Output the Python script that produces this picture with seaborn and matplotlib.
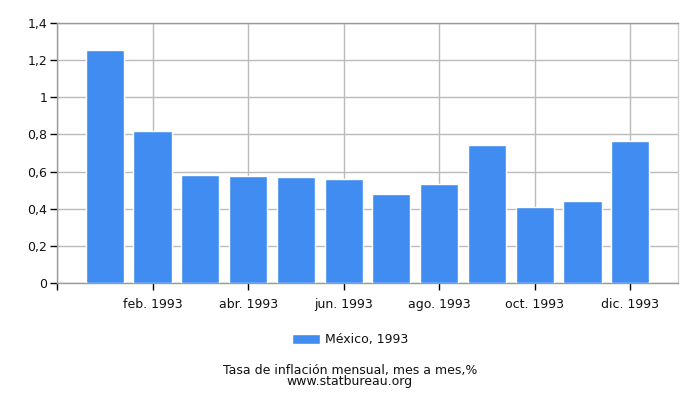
import matplotlib
matplotlib.use("Agg")
import matplotlib.pyplot as plt
import seaborn as sns
import pandas as pd

months = ["ene. 1993", "feb. 1993", "mar. 1993", "abr. 1993", "may. 1993", "jun. 1993",
          "jul. 1993", "ago. 1993", "sep. 1993", "oct. 1993", "nov. 1993", "dic. 1993"]
values = [1.257, 0.820, 0.584, 0.578, 0.572, 0.561, 0.480, 0.534, 0.745, 0.410, 0.442, 0.766]
y_ticks = [0, 0.2, 0.4, 0.6, 0.8, 1.0, 1.2, 1.4]
y_tick_labels = ["0", "0,2", "0,4", "0,6", "0,8", "1", "1,2", "1,4"]
series_label = "México, 1993"
title = "Tasa de inflación mensual, mes a mes,%"
source = "www.statbureau.org"

sns.set_style("white", {"xtick.bottom": True, "ytick.left": True})
plt.rcParams['font.family'] = ['DejaVu Sans']

df = pd.DataFrame({"month": months, "value": values})

fig = plt.figure(figsize=(7, 4), dpi=100)
ax = fig.add_axes([57/700, 117/400, (678-57)/700, (283-23)/400])

sns.barplot(data=df, x="month", y="value", color="#418CF0", width=0.8,
            saturation=1, ax=ax, label=series_label, zorder=3)

ax.set_xlim(-1, 12)
ax.set_ylim(0, 1.4)
xt = [-1] + list(range(1, 12, 2))
ax.set_xticks(xt)
ax.set_xticklabels([""] + [months[i] for i in range(1, 12, 2)])
ax.set_yticks(y_ticks)
ax.set_yticklabels(y_tick_labels)
ax.set_xlabel("")
ax.set_ylabel("")

ax.grid(True, color="#bbbbbb", linewidth=1)
ax.set_axisbelow(True)
for side in ["top", "bottom", "left"]:
    ax.spines[side].set_color("#999999")
ax.spines["right"].set_color("#cccccc")
for s in ax.spines.values():
    s.set_linewidth(1)

ax.tick_params(axis="both", which="major", direction="out", length=5, width=1,
               color="#000000", labelsize=9, labelcolor="#111111", pad=2,
               bottom=True, left=True)
ax.tick_params(axis="x", pad=6)

leg = ax.legend(loc="center", bbox_to_anchor=(350/700, 1 - 340/400), bbox_transform=fig.transFigure,
                frameon=False, fontsize=9, handlelength=2.2, handleheight=0.9, handletextpad=0.4)
for t in leg.get_texts():
    t.set_color("#111111")

fig.text(350/700, 1 - 376/400, title + "\n" + source, ha="center", va="center",
         fontsize=9, color="#111111", linespacing=0.85)

fig.savefig("out.png", dpi=100)
